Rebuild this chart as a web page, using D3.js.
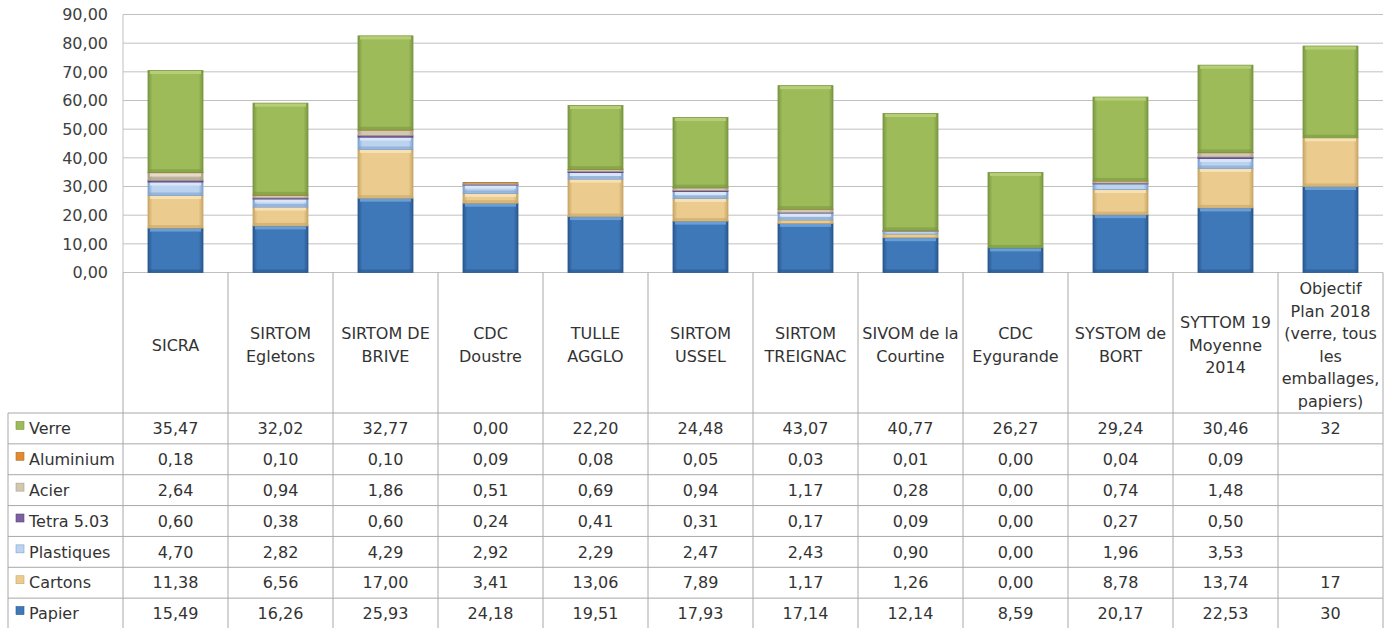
<!DOCTYPE html>
<html><head><meta charset="utf-8">
<script src="https://cdn.jsdelivr.net/npm/d3@7"></script>
<style>
html,body{margin:0;padding:0;background:#fff;}
svg{display:block;font-family:"DejaVu Sans",Verdana,sans-serif;}
</style></head>
<body><svg id="c" width="1391" height="628"></svg>
<script>
const categories = [
  "SICRA", "SIRTOM\nEgletons", "SIRTOM DE\nBRIVE", "CDC\nDoustre", "TULLE\nAGGLO",
  "SIRTOM\nUSSEL", "SIRTOM\nTREIGNAC", "SIVOM de la\nCourtine", "CDC\nEygurande",
  "SYSTOM de\nBORT", "SYTTOM 19\nMoyenne\n2014",
  "Objectif\nPlan 2018\n(verre, tous\nles\nemballages,\npapiers)"
];
const seriesNames = ["Verre", "Aluminium", "Acier", "Tetra 5.03", "Plastiques", "Cartons", "Papier"];
const verre      = [35.47, 32.02, 32.77, 0.00, 22.20, 24.48, 43.07, 40.77, 26.27, 29.24, 30.46, 32];
const aluminium  = [0.18, 0.10, 0.10, 0.09, 0.08, 0.05, 0.03, 0.01, 0.00, 0.04, 0.09, null];
const acier      = [2.64, 0.94, 1.86, 0.51, 0.69, 0.94, 1.17, 0.28, 0.00, 0.74, 1.48, null];
const tetra      = [0.60, 0.38, 0.60, 0.24, 0.41, 0.31, 0.17, 0.09, 0.00, 0.27, 0.50, null];
const plastiques = [4.70, 2.82, 4.29, 2.92, 2.29, 2.47, 2.43, 0.90, 0.00, 1.96, 3.53, null];
const cartons    = [11.38, 6.56, 17.00, 3.41, 13.06, 7.89, 1.17, 1.26, 0.00, 8.78, 13.74, 17];
const papier     = [15.49, 16.26, 25.93, 24.18, 19.51, 17.93, 17.14, 12.14, 8.59, 20.17, 22.53, 30];
const yTicks = [0, 10, 20, 30, 40, 50, 60, 70, 80, 90];

const tableRows = [verre, aluminium, acier, tetra, plastiques, cartons, papier];
const stackOrder = ["Papier", "Cartons", "Plastiques", "Tetra 5.03", "Acier", "Aluminium", "Verre"];
const valuesByName = {};
seriesNames.forEach((n, i) => valuesByName[n] = tableRows[i]);

const colors = {
  "Verre":      {base:"#9DBB59", edge:"#7A9742", light:"#B9D27A"},
  "Aluminium":  {base:"#E08A34", edge:"#B86C20", light:"#F0A858"},
  "Acier":      {base:"#D2C8B2", edge:"#A99E88", light:"#E6DECD"},
  "Tetra 5.03": {base:"#7E60A0", edge:"#5E4380", light:"#9C80BE"},
  "Plastiques": {base:"#BCD3EF", edge:"#7FA2CF", light:"#DCE8F8"},
  "Cartons":    {base:"#EBCB8E", edge:"#C9A767", light:"#F6E3B8"},
  "Papier":     {base:"#3E78B8", edge:"#2A5890", light:"#6EA2DA"}
};

const svg = d3.select("#c");
const plotLeft = 123, plotRight = 1383, plotTop = 14.5, plotBottom = 272.5;
const tableTop = 413, tableBottom = 629, legendLeft = 8;
const gridCol = "#C0C0C0", tableCol = "#A8A8A8", textCol = "#333333";

const x = d3.scaleBand().domain(d3.range(categories.length)).range([plotLeft, plotRight]).paddingInner(0.476).paddingOuter(0.238);
const xCol = d3.scaleBand().domain(d3.range(categories.length)).range([plotLeft, plotRight]);
const y = d3.scaleLinear().domain([0, 90]).range([plotBottom, plotTop]);
const rowY = d3.scaleBand().domain(d3.range(seriesNames.length)).range([tableTop, tableBottom]);

// gradients
const defs = svg.append("defs");
Object.entries(colors).forEach(([name, c], i) => {
  const g = defs.append("linearGradient").attr("id", "g" + i).attr("x1", "0").attr("x2", "1").attr("y1", "0").attr("y2", "0");
  g.append("stop").attr("offset", "0").attr("stop-color", c.edge);
  g.append("stop").attr("offset", "0.08").attr("stop-color", c.base);
  g.append("stop").attr("offset", "0.92").attr("stop-color", c.base);
  g.append("stop").attr("offset", "1").attr("stop-color", c.edge);
  colors[name].grad = "url(#g" + i + ")";
});

// gridlines
svg.append("g").selectAll("line").data(yTicks).join("line")
  .attr("x1", plotLeft).attr("x2", plotRight)
  .attr("y1", d => y(d)).attr("y2", d => y(d))
  .attr("stroke", gridCol).attr("stroke-width", 1);
svg.append("line").attr("x1", plotLeft).attr("x2", plotLeft).attr("y1", plotTop).attr("y2", plotBottom)
  .attr("stroke", gridCol);

// y axis labels
const fmt = v => d3.format(".2f")(v).replace(".", ",");
svg.append("g").selectAll("text").data(yTicks).join("text")
  .attr("x", 108).attr("y", d => y(d)).attr("dy", "0.36em")
  .attr("text-anchor", "end").attr("font-size", 16).attr("fill", "#404040")
  .text(d => fmt(d));

// stacked bars
const stackData = categories.map((c, j) => {
  const o = {idx: j};
  stackOrder.forEach(n => o[n] = valuesByName[n][j] || 0);
  return o;
});
const stacked = d3.stack().keys(stackOrder)(stackData);
const barsG = svg.append("g");
stacked.forEach(layer => {
  const c = colors[layer.key];
  const g = barsG.append("g");
  layer.forEach(d => {
    const v = d[1] - d[0];
    if (v <= 0) return;
    const x0 = x(d.data.idx), w = x.bandwidth();
    const yt = y(d[1]), yb = y(d[0]);
    const h = yb - yt;
    g.append("rect").attr("x", x0).attr("y", yt).attr("width", w).attr("height", h)
      .attr("fill", c.grad).attr("stroke", c.edge).attr("stroke-width", 0.8);
    if (h > 6) {
      g.append("rect").attr("x", x0 + 2).attr("y", yt + 0.5).attr("width", w - 4).attr("height", 3)
        .attr("fill", c.light).attr("opacity", 0.9);
      g.append("rect").attr("x", x0 + 1).attr("y", yb - 3).attr("width", w - 2).attr("height", 2.5)
        .attr("fill", c.edge).attr("opacity", 0.6);
    }
  });
});

// table
const tg = svg.append("g");
d3.range(categories.length + 1).forEach(i => {
  const xx = plotLeft + i * xCol.step();
  tg.append("line").attr("x1", xx).attr("x2", xx).attr("y1", plotBottom).attr("y2", tableBottom)
    .attr("stroke", tableCol);
});
tg.append("line").attr("x1", legendLeft).attr("x2", legendLeft).attr("y1", tableTop).attr("y2", tableBottom).attr("stroke", tableCol);
d3.range(seriesNames.length + 1).forEach(r => {
  const yy = rowY(0) + r * rowY.step();
  tg.append("line").attr("x1", legendLeft).attr("x2", plotRight).attr("y1", yy).attr("y2", yy).attr("stroke", tableCol);
});

// header labels
categories.forEach((c, j) => {
  const lines = c.split("\n");
  const lh = 22.5;
  const cy = (plotBottom + tableTop) / 2 + 2;
  const t = tg.append("text").attr("text-anchor", "middle").attr("font-size", 16).attr("fill", textCol);
  lines.forEach((l, k) => {
    t.append("tspan").attr("x", xCol(j) + xCol.bandwidth() / 2)
      .attr("y", cy + (k - (lines.length - 1) / 2) * lh).attr("dy", "0.36em").text(l);
  });
});

// legend + values
seriesNames.forEach((n, r) => {
  const cy = rowY(r) + rowY.bandwidth() / 2;
  const c = colors[n];
  tg.append("rect").attr("x", 16).attr("y", cy - 7).attr("width", 8).attr("height", 8)
    .attr("fill", c.base).attr("stroke", c.edge).attr("stroke-width", 0.6);
  tg.append("text").attr("x", 29).attr("y", cy).attr("dy", "0.36em").attr("font-size", 16).attr("fill", textCol).text(n);
  tableRows[r].forEach((v, j) => {
    if (v === null) return;
    tg.append("text").attr("x", xCol(j) + xCol.bandwidth() / 2).attr("y", cy).attr("dy", "0.36em")
      .attr("text-anchor", "middle").attr("font-size", 16).attr("fill", textCol)
      .text(j === categories.length - 1 ? String(v) : fmt(v));
  });
});
</script></body></html>
